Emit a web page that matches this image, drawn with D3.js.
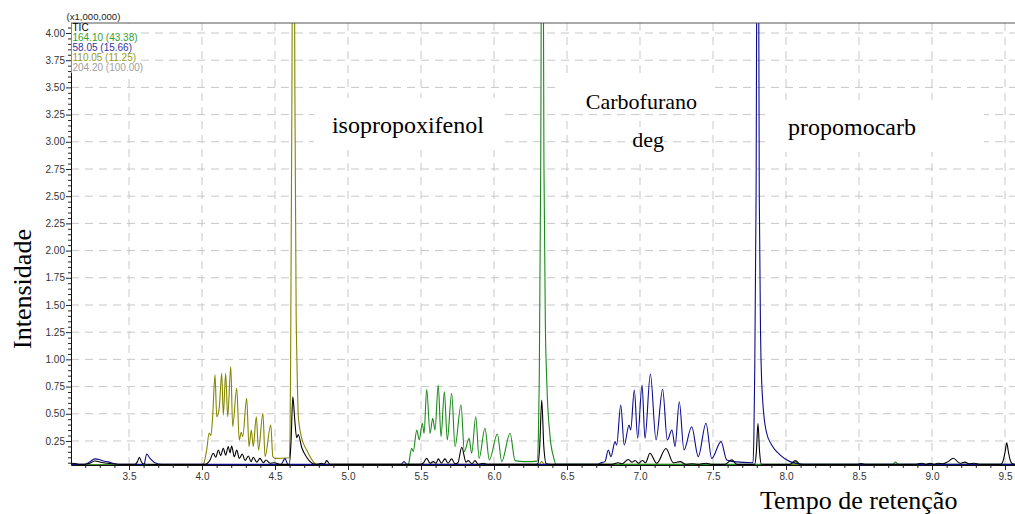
<!DOCTYPE html>
<html>
<head>
<meta charset="utf-8">
<script src="https://cdn.jsdelivr.net/npm/d3@7"></script>
<style>
body { margin: 0; background: #fff; }
</style>
</head>
<body>
<div id="chart"></div>
<script>
// retention time (min), intensity (x1,000,000)
let ticData = [
  [3.103,0.04],[3.116,0.045],[3.164,0.035],[3.219,0.04],[3.267,0.066],[3.322,0.05],[3.384,0.04],[3.473,0.035],
  [3.541,0.035],[3.558,0.06],[3.571,0.10],[3.584,0.06],[3.596,0.04],[3.644,0.035],[4.007,0.035],
  [4.021,0.035],[4.055,0.075],[4.077,0.137],[4.094,0.10],[4.112,0.167],[4.128,0.115],[4.146,0.183],[4.162,0.12],
  [4.180,0.198],[4.192,0.14],[4.203,0.204],[4.221,0.105],[4.238,0.167],[4.255,0.09],[4.276,0.13],[4.295,0.07],
  [4.317,0.112],[4.336,0.06],[4.351,0.10],[4.375,0.055],[4.397,0.09],[4.420,0.05],[4.438,0.075],[4.466,0.045],
  [4.495,0.05],[4.534,0.035],[4.598,0.035],[4.610,0.25],[4.622,0.657],[4.635,0.45],[4.648,0.28],[4.659,0.31],
  [4.683,0.19],[4.717,0.10],[4.762,0.04],[4.788,0.035],[4.820,0.045],[4.836,0.035],[4.854,0.069],[4.877,0.035],
  [5.493,0.035],[5.514,0.045],[5.539,0.09],[5.562,0.045],[5.584,0.06],[5.603,0.045],[5.618,0.085],[5.640,0.045],
  [5.664,0.085],[5.685,0.045],[5.710,0.085],[5.733,0.04],[5.753,0.05],[5.779,0.192],[5.808,0.055],[5.824,0.069],
  [5.849,0.04],[5.870,0.069],[5.892,0.035],[5.927,0.045],[5.950,0.035],[6.290,0.035],[6.300,0.04],[6.313,0.2],
  [6.327,0.627],[6.341,0.2],[6.358,0.04],[6.400,0.035],[6.726,0.035],[6.808,0.035],[6.851,0.05],[6.877,0.04],
  [6.920,0.08],[6.945,0.055],[6.966,0.07],[6.990,0.045],[7.016,0.07],[7.038,0.05],[7.068,0.137],[7.114,0.045],
  [7.178,0.18],[7.228,0.05],[7.274,0.06],[7.315,0.035],[7.356,0.04],[7.397,0.035],[7.452,0.045],[7.493,0.035],
  [7.582,0.035],[7.628,0.076],[7.664,0.035],[7.785,0.035],[7.797,0.15],[7.808,0.41],[7.819,0.15],[7.832,0.035],
  [8.027,0.035],[8.065,0.07],[8.096,0.035],[8.486,0.035],[8.514,0.042],[8.548,0.035],[8.884,0.035],[8.929,0.045],
  [8.959,0.035],[8.986,0.045],[9.014,0.035],[9.043,0.045],[9.075,0.04],[9.110,0.06],[9.146,0.091],[9.192,0.045],
  [9.226,0.055],[9.253,0.04],[9.288,0.045],[9.329,0.035],[9.470,0.035],[9.490,0.08],[9.502,0.16],[9.512,0.234],
  [9.522,0.16],[9.534,0.08],[9.550,0.04],[9.568,0.035]
];

let ion164Data = [
  [3.103,0.03],[5.400,0.03],[5.413,0.035],[5.436,0.183],[5.447,0.152],[5.471,0.351],[5.488,0.26],[5.509,0.413],
  [5.521,0.32],[5.539,0.725],[5.562,0.32],[5.580,0.459],[5.596,0.351],[5.618,0.765],[5.637,0.29],[5.660,0.703],
  [5.680,0.259],[5.710,0.688],[5.733,0.198],[5.774,0.581],[5.797,0.152],[5.829,0.275],[5.847,0.137],[5.875,0.473],
  [5.898,0.09],[5.938,0.367],[5.968,0.075],[6.023,0.314],[6.053,0.06],[6.110,0.321],[6.144,0.069],[6.212,0.06],
  [6.296,0.065],[6.304,0.3],[6.310,0.81],[6.320,2.8],[6.331,7.0],[6.342,2.8],[6.352,1.3],[6.361,0.81],
  [6.384,0.29],[6.407,0.105],[6.425,0.035],[8.040,0.035],[8.065,0.06],[8.090,0.035],[8.730,0.035],[8.750,0.055],
  [8.770,0.035],[9.568,0.035]
];

let ion58Data = [
  [3.103,0.035],[3.199,0.035],[3.233,0.06],[3.267,0.085],[3.295,0.08],[3.324,0.065],[3.356,0.058],[3.404,0.04],
  [3.438,0.035],[3.603,0.035],[3.621,0.13],[3.644,0.09],[3.678,0.05],[3.726,0.035],[4.541,0.035],[4.568,0.088],
  [4.589,0.035],[5.363,0.035],[5.384,0.06],[5.404,0.035],[6.712,0.035],[6.726,0.045],[6.760,0.06],[6.783,0.167],
  [6.801,0.106],[6.829,0.244],[6.840,0.213],[6.868,0.581],[6.892,0.213],[6.925,0.397],[6.936,0.351],[6.961,0.719],
  [6.984,0.275],[7.014,0.765],[7.034,0.275],[7.071,0.866],[7.110,0.259],[7.155,0.725],[7.187,0.259],[7.219,0.351],
  [7.240,0.198],[7.269,0.611],[7.301,0.167],[7.354,0.381],[7.399,0.106],[7.452,0.413],[7.491,0.09],[7.555,0.244],
  [7.594,0.075],[7.639,0.06],[7.774,0.05],[7.780,0.3],[7.785,0.81],[7.795,2.5],[7.806,7.0],[7.817,2.5],
  [7.826,1.2],[7.833,0.81],[7.840,0.627],[7.866,0.33],[7.902,0.213],[7.959,0.122],[8.027,0.06],[8.118,0.035],
  [9.568,0.035]
];

let ion110Data = [
  [3.103,0.03],[4.000,0.03],[4.009,0.035],[4.032,0.167],[4.049,0.323],[4.061,0.30],[4.073,0.475],[4.089,0.858],
  [4.101,0.473],[4.118,0.55],[4.135,0.872],[4.146,0.488],[4.162,0.872],[4.176,0.473],[4.197,0.933],[4.210,0.382],
  [4.238,0.734],[4.255,0.259],[4.269,0.33],[4.279,0.29],[4.306,0.642],[4.322,0.198],[4.338,0.351],[4.351,0.198],
  [4.372,0.473],[4.387,0.167],[4.417,0.505],[4.432,0.107],[4.471,0.397],[4.485,0.107],[4.500,0.09],[4.598,0.095],
  [4.603,0.3],[4.607,1.0],[4.616,3.5],[4.626,7.0],[4.636,3.5],[4.645,1.4],[4.650,1.0],[4.660,0.47],
  [4.683,0.275],[4.717,0.167],[4.762,0.06],[4.785,0.035],[6.310,0.035],[6.327,0.06],[6.345,0.035],[9.568,0.03]
];

let legendLabels = ["TIC", "164.10 (43.38)", "58.05 (15.66)", "110.05 (11.25)", "204.20 (100.00)"];
let legendColors = ["#000000", "#33a033", "#33339f", "#9a9a10", "#a0a0a0"];

let xTickValues = [3.5, 4.0, 4.5, 5.0, 5.5, 6.0, 6.5, 7.0, 7.5, 8.0, 8.5, 9.0, 9.5];
let yTickValues = [0.25, 0.50, 0.75, 1.00, 1.25, 1.50, 1.75, 2.00, 2.25, 2.50, 2.75, 3.00, 3.25, 3.50, 3.75, 4.00];

let annoLines = ["isopropoxifenol", "Carbofurano", "deg", "propomocarb"];

let width = 1015, height = 514;
let margin = {top: 23, right: 0, bottom: 49, left: 71};
let plotW = width - margin.left - margin.right;
let plotH = height - margin.top - margin.bottom;

let svg = d3.select("#chart")
    .append("svg")
    .attr("width", width)
    .attr("height", height)
    .style("font-family", "'Liberation Sans', Arial, sans-serif");

let g = svg.append("g")
    .attr("transform", `translate(${margin.left},${margin.top})`);

let x = d3.scaleLinear()
    .domain([3.1027, 3.1027 + plotW / 146])
    .range([0, plotW]);

let y = d3.scaleLinear()
    .domain([0.029, 4.092])
    .range([plotH, 0]);

// dashed grid
let grid = g.append("g").attr("stroke", "#c8c8c8").attr("stroke-dasharray", "8,6");
grid.selectAll(".vg").data(xTickValues).enter().append("line")
    .attr("x1", d => x(d)).attr("x2", d => x(d))
    .attr("y1", 0).attr("y2", plotH);
grid.selectAll(".hg").data(yTickValues).enter().append("line")
    .attr("x1", 0).attr("x2", plotW)
    .attr("y1", d => y(d)).attr("y2", d => y(d));

// annotation boxes + text (white boxes hide the grid)
let annoLayer = g.append("g");
let annoPos = [
  {t: 4.890, v: 3.081, size: 24, anchor: "start", padL: 18, padR: 20, padT: 14, padB: 12},
  {t: 7.010, v: 3.301, size: 22, anchor: "middle", padL: 30, padR: 18, padT: 12, padB: 0},
  {t: 7.055, v: 2.952, size: 22, anchor: "middle", padL: 0, padR: 0, padT: 0, padB: 12},
  {t: 8.014, v: 3.063, size: 24, anchor: "start", padL: 22, padR: 68, padT: 14, padB: 12}
];
let annoBoxes = annoLayer.append("g");
let annoTexts = annoLines.map((txt, i) => {
  let p = annoPos[i];
  return annoLayer.append("text")
      .attr("x", x(p.t))
      .attr("y", y(p.v))
      .attr("text-anchor", p.anchor)
      .style("font-family", "'Liberation Serif', 'Times New Roman', serif")
      .style("font-size", p.size + "px")
      .text(txt);
});
annoTexts.forEach((t, i) => {
  let b = t.node().getBBox();
  let p = annoPos[i];
  annoBoxes.append("rect")
      .attr("x", b.x - p.padL).attr("y", b.y - p.padT)
      .attr("width", b.width + p.padL + p.padR)
      .attr("height", b.height + p.padT + p.padB)
      .attr("fill", "#fff");
});

// chromatogram traces
g.append("clipPath").attr("id", "plotclip")
  .append("rect").attr("width", plotW).attr("height", plotH);

let line = d3.line()
    .x(d => x(d[0]))
    .y(d => y(d[1]))
    .curve(d3.curveMonotoneX);

let traces = g.append("g").attr("clip-path", "url(#plotclip)");
let series = [
  {data: ion110Data, color: "#858500"},
  {data: ion164Data, color: "#1a8a1a"},
  {data: ion58Data, color: "#0c0c8c"},
  {data: ticData, color: "#000000"}
];
series.forEach(s => {
  traces.append("path")
      .datum(s.data)
      .attr("fill", "none")
      .attr("stroke", s.color)
      .attr("stroke-width", 1.1)
      .attr("d", line);
});

// axes
let xMinor = d3.range(3.2, 9.56, 0.1).filter(v => Math.abs(v * 2 - Math.round(v * 2)) > 0.01);
let yMinor = d3.range(0.05, 4.09, 0.05).filter(v => Math.abs(v * 4 - Math.round(v * 4)) > 0.01);

let xAxisMinor = g.append("g")
    .attr("transform", `translate(0,${plotH})`)
    .call(d3.axisBottom(x).tickValues(xMinor).tickSize(3).tickSizeOuter(0).tickFormat(""));
xAxisMinor.select(".domain").remove();

let xAxis = g.append("g")
    .attr("transform", `translate(0,${plotH})`)
    .call(d3.axisBottom(x).tickValues(xTickValues).tickSize(5).tickSizeOuter(0).tickPadding(3)
      .tickFormat(d3.format(".1f")));

let yAxisMinor = g.append("g")
    .call(d3.axisLeft(y).tickValues(yMinor).tickSize(3).tickSizeOuter(0).tickFormat(""));
yAxisMinor.select(".domain").remove();

let yAxis = g.append("g")
    .call(d3.axisLeft(y).tickValues(yTickValues).tickSize(5).tickSizeOuter(0).tickPadding(1)
      .tickFormat(d3.format(".2f")));

[xAxis, yAxis].forEach(a => {
  a.selectAll("text").style("font-size", "10px").attr("fill", "#333")
      .style("font-family", "'Liberation Sans', Arial, sans-serif");
  a.select(".domain").attr("stroke", "#111");
});
svg.selectAll(".tick line").attr("stroke", "#222");

// top frame line
g.append("line")
    .attr("x1", 0).attr("x2", plotW)
    .attr("y1", 0).attr("y2", 0)
    .attr("stroke", "#555");

// legend
let legend = g.append("g");
legend.append("rect")
    .attr("x", 0.5).attr("y", 1)
    .attr("width", 66).attr("height", 49)
    .attr("fill", "#fff");
legend.selectAll("text").data(legendLabels).enter().append("text")
    .attr("x", 1.5)
    .attr("y", (d, i) => 7.5 + i * 10)
    .style("font-size", "10px")
    .attr("fill", (d, i) => legendColors[i])
    .text(d => d);

svg.append("text")
    .attr("x", 66.5).attr("y", 20)
    .style("font-size", "9.6px")
    .attr("fill", "#222")
    .text("(x1,000,000)");

// axis titles
svg.append("text")
    .attr("transform", `translate(31,289) rotate(-90)`)
    .style("text-anchor", "middle")
    .style("font-family", "'Liberation Serif', 'Times New Roman', serif")
    .style("font-size", "26px")
    .text("Intensidade");

svg.append("text")
    .attr("x", 760).attr("y", 509)
    .style("font-family", "'Liberation Serif', 'Times New Roman', serif")
    .style("font-size", "26px")
    .text("Tempo de retenção");
</script>
</body>
</html>
